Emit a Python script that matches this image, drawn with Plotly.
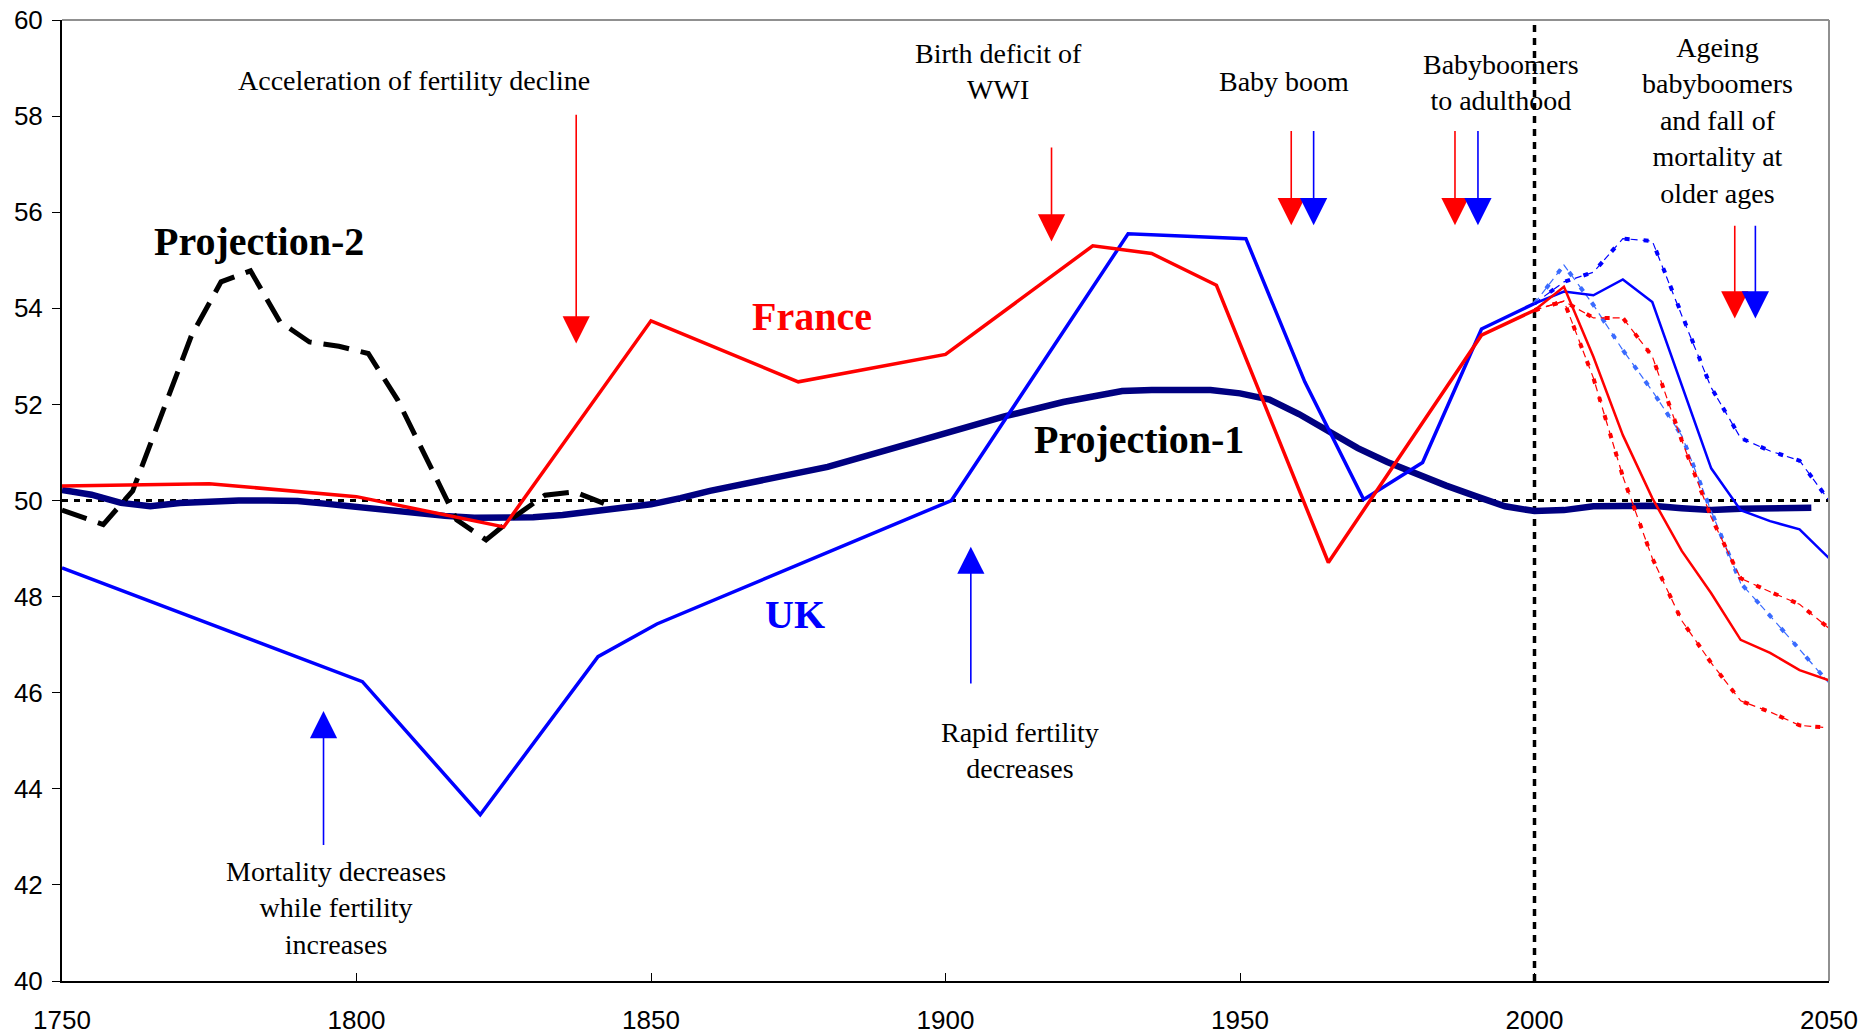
import plotly.graph_objects as go

# ---------------- data ----------------
fr_years = [1750, 1775, 1800, 1825, 1850, 1875, 1900, 1925, 1935, 1946, 1965, 1991, 2000]
fr_vals = [50.30, 50.35, 50.08, 49.45, 53.74, 52.47, 53.04, 55.30, 55.14, 54.48, 48.71, 53.44, 53.96]

uk_years = [1750, 1801, 1821, 1841, 1851, 1901, 1931, 1951, 1961, 1971, 1981, 1991, 2000]
uk_vals = [48.60, 46.23, 43.46, 46.75, 47.43, 50.00, 55.55, 55.45, 52.47, 50.02, 50.79, 53.57, 54.10]

p1_years = [1750, 1755, 1760, 1765, 1770, 1775, 1780, 1785, 1790, 1795, 1800, 1805, 1810,
            1815, 1820, 1825, 1830, 1835, 1840, 1845, 1850, 1855, 1860, 1870, 1875, 1880,
            1890, 1900, 1910, 1920, 1925, 1930, 1935, 1940, 1945, 1950, 1955, 1960, 1965,
            1970, 1975, 1980, 1985, 1990, 1995, 2000, 2005, 2010, 2015, 2020, 2025, 2030,
            2035, 2040, 2045, 2047]
p1_vals = [50.22, 50.12, 49.95, 49.88, 49.95, 49.99, 50.00, 50.00, 49.99, 49.93, 49.86, 49.80, 49.72,
           49.68, 49.64, 49.64, 49.65, 49.70, 49.78, 49.85, 49.92, 50.05, 50.20, 50.45, 50.56, 50.70,
           51.05, 51.40, 51.75, 52.05, 52.18, 52.28, 52.30, 52.30, 52.30, 52.23, 52.10, 51.80, 51.45,
           51.09, 50.80, 50.54, 50.31, 50.09, 49.88, 49.78, 49.80, 49.88, 49.90, 49.89, 49.84, 49.80,
           49.83, 49.85, 49.85, 49.85]

p2_years = [1750, 1757, 1762, 1767, 1772, 1777, 1782, 1787, 1792, 1797, 1802, 1807, 1812,
            1817, 1822, 1827, 1832, 1837, 1842]
p2_vals = [49.80, 49.50, 50.20, 51.84, 53.44, 54.55, 54.78, 53.72, 53.30, 53.21, 53.06, 52.09, 50.84,
           49.60, 49.18, 49.68, 50.11, 50.18, 49.94]

proj_years = [2000, 2005, 2010, 2015, 2020, 2025, 2030, 2035, 2040, 2045, 2050]
fr_med = [53.96, 54.45, 52.99, 51.36, 50.05, 48.95, 48.07, 47.10, 46.83, 46.47, 46.26]
fr_high = [53.96, 54.15, 53.80, 53.80, 53.00, 51.25, 49.65, 48.38, 48.10, 47.84, 47.34]
fr_low = [53.96, 54.15, 52.55, 50.50, 48.80, 47.50, 46.62, 45.83, 45.60, 45.32, 45.27]
uk_med = [54.10, 54.35, 54.27, 54.60, 54.13, 52.40, 50.67, 49.80, 49.57, 49.40, 48.80]
uk_high = [54.10, 54.55, 54.75, 55.45, 55.40, 53.85, 52.35, 51.30, 51.03, 50.83, 50.00]
uk_low = [54.10, 54.90, 54.07, 53.13, 52.28, 51.35, 49.78, 48.28, 47.60, 46.90, 46.20]

x_ticks = [1750, 1800, 1850, 1900, 1950, 2000, 2050]
y_ticks = [40, 42, 44, 46, 48, 50, 52, 54, 56, 58, 60]
parity_level = 50
base_year = 2000

RED = "#FF0000"
BLUE = "#0000FF"
LBLUE = "#3A6BFF"
NAVY = "#000080"
SERIF = "Liberation Serif, Times New Roman, serif"
TICKFONT = "Liberation Sans, Arial, sans-serif"

fig = go.Figure()

def line(x, y, color, width, dash="solid", name=""):
    fig.add_trace(go.Scatter(x=x, y=y, mode="lines", name=name, hoverinfo="skip",
                             line=dict(color=color, width=width, dash=dash)))

line(p1_years, p1_vals, NAVY, 6.5, name="Projection-1")
line(p2_years, p2_vals, "#000000", 5, dash="26px,12px", name="Projection-2")
line(uk_years, uk_vals, BLUE, 3.5, name="UK")
line(fr_years, fr_vals, RED, 3.5, name="France")

# projections: medium solid, variants as thin dashes mixed with thick dots
for vals, col in [(uk_high, BLUE), (uk_low, LBLUE), (fr_high, RED), (fr_low, RED)]:
    line(proj_years, vals, col, 1.2, dash="7px,5px")
    line(proj_years, vals, col, 4, dash="5px,14px")
line(proj_years, uk_med, BLUE, 2.5, name="UK medium")
line(proj_years, fr_med, RED, 2.5, name="France medium")

shapes = [
    dict(type="line", xref="x domain", yref="y", x0=0, x1=1, y0=parity_level, y1=parity_level,
         line=dict(color="black", width=3, dash="6px,6px"), layer="below"),
    dict(type="line", xref="x", yref="y domain", x0=base_year, x1=base_year, y0=0, y1=1,
         line=dict(color="black", width=3.5, dash="7px,6px"), layer="below"),
    dict(type="line", xref="x domain", yref="y domain", x0=0, x1=1, y0=1, y1=1,
         line=dict(color="#909090", width=2)),
    dict(type="line", xref="x domain", yref="y domain", x0=1, x1=1, y0=0, y1=1,
         line=dict(color="#909090", width=2)),
]

ann = []

def text(x, y, t, size=28, color="black", bold=False):
    if bold:
        t = "<b>" + t + "</b>"
    ann.append(dict(x=x, y=y, xref="x", yref="y", text=t, showarrow=False,
                    font=dict(family=SERIF, size=size, color=color),
                    xanchor="center", yanchor="middle", align="center"))

def arrow(x, y_tail, y_tip, color):
    ann.append(dict(x=x, y=y_tip, ax=x, ay=y_tail, xref="x", yref="y", axref="x", ayref="y",
                    text="", showarrow=True, arrowhead=2, arrowsize=3.4, arrowwidth=1.6,
                    arrowcolor=color))

text(1809.8, 58.75, "Acceleration of fertility decline")
text(1783.4, 55.39, "Projection-2", size=40, bold=True)
text(1877.3, 53.83, "France", size=40, color=RED, bold=True)
text(1932.9, 51.27, "Projection-1", size=40, bold=True)
text(1874.5, 47.62, "UK", size=40, color=BLUE, bold=True)
text(1909.0, 58.92, "Birth deficit of<br>WWI")
text(1957.4, 58.72, "Baby boom")
text(1994.3, 58.70, "Babyboomers<br>to adulthood")
text(2031.1, 57.90, "Ageing<br>babyboomers<br>and fall of<br>mortality at<br>older ages")
text(1912.6, 44.79, "Rapid fertility<br>decreases")
text(1796.5, 41.52, "Mortality decreases<br>while fertility<br>increases")

arrow(1837.3, 58.06, 53.27, RED)
arrow(1918.0, 57.38, 55.39, RED)
arrow(1958.7, 57.72, 55.73, RED)
arrow(1962.5, 57.72, 55.73, BLUE)
arrow(1986.5, 57.72, 55.73, RED)
arrow(1990.4, 57.72, 55.73, BLUE)
arrow(2034.0, 55.75, 53.79, RED)
arrow(2037.5, 55.75, 53.79, BLUE)
arrow(1794.4, 42.80, 45.62, BLUE)
arrow(1904.3, 46.16, 49.04, BLUE)

fig.update_layout(
    width=1872, height=1035,
    margin=dict(l=62, r=43, t=20, b=54, autoexpand=False),
    paper_bgcolor="white", plot_bgcolor="white",
    showlegend=False,
    shapes=shapes, annotations=ann,
    font=dict(family=TICKFONT, size=26, color="black"),
)
fig.update_xaxes(range=[1750, 2050], tickvals=x_ticks, ticktext=[str(v) for v in x_ticks],
                 showgrid=False, zeroline=False, showline=True, linecolor="black", linewidth=2,
                 ticks="inside", ticklen=8, tickcolor="black", tickwidth=1, automargin=False,
                 ticklabelstandoff=15, tickfont=dict(family=TICKFONT, size=26))
fig.update_yaxes(range=[40, 60], tickvals=y_ticks, ticktext=[str(v) for v in y_ticks],
                 showgrid=False, zeroline=False, showline=True, linecolor="black", linewidth=2,
                 ticks="outside", ticklen=8, tickcolor="black", tickwidth=1, automargin=False,
                 ticklabelstandoff=4, tickfont=dict(family=TICKFONT, size=26))

fig.write_html("out.html", config={"displayModeBar": False},
               post_script="document.body.style.margin='0';document.body.style.overflow='hidden';")
